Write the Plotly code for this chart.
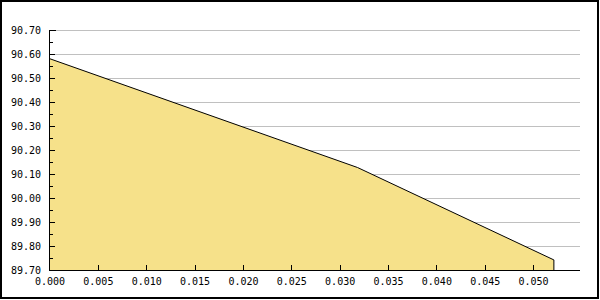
import plotly.graph_objects as go

# Data
x_vals = [0.0, 0.0318, 0.0521]
y_vals = [90.58, 90.127, 89.742]
y_min, y_max = 89.70, 90.70
x_min, x_max = 0.0, 0.0548

W, H = 600, 300
ML, MR, MT, MB = 50, 20, 30, 30
PW, PH = W - ML - MR, H - MT - MB

def px(xp):
    return (xp - ML) / PW

def py(yp):
    return (H - MB - yp) / PH

xs = x_vals + [x_vals[-1]]
ys = y_vals + [y_min]

fig = go.Figure()
fig.add_trace(go.Scatter(
    x=xs, y=ys, mode="lines", fill="tozeroy",
    fillcolor="#F6E18A", line=dict(color="black", width=1),
    hoverinfo="skip", showlegend=False,
))

font = dict(family="DejaVu Sans Mono", size=10, color="black")

fig.update_layout(
    width=W, height=H,
    margin=dict(l=ML, r=MR, t=MT, b=MB, pad=0),
    paper_bgcolor="white", plot_bgcolor="white",
    font=font,
    xaxis=dict(
        range=[x_min, x_max], dtick=0.005, tick0=0, tickformat=".3f",
        showgrid=False, zeroline=False,
        showline=True, linecolor="black", linewidth=1,
        ticks="inside", ticklen=5, tickcolor="black", tickwidth=1,
        tickfont=font, ticklabelstandoff=2,
    ),
    yaxis=dict(
        range=[y_min, y_max], dtick=0.1, tick0=89.7, tickformat=".2f",
        showgrid=True, gridcolor="#C0C0C0", gridwidth=1, zeroline=False,
        showline=True, linecolor="black", linewidth=1,
        ticks="inside", ticklen=5, tickcolor="black", tickwidth=1,
        tickfont=font, ticklabelstandoff=6,
        minor=dict(dtick=0.05, ticks="inside", ticklen=3, tickcolor="black", showgrid=False),
    ),
    shapes=[
        dict(type="line", xref="paper", yref="paper", x0=px(56), x1=1,
             y0=py(30.5), y1=py(30.5),
             line=dict(color="#C0C0C0", width=1), layer="above"),
        dict(type="line", xref="paper", yref="paper", x0=px(50), x1=px(56),
             y0=py(30.5), y1=py(30.5),
             line=dict(color="black", width=1), layer="above"),
        dict(type="rect", xref="paper", yref="paper",
             x0=px(1), x1=px(598), y0=py(1), y1=py(298),
             line=dict(color="black", width=2), layer="above"),
    ],
)

fig.write_html("out.html")
